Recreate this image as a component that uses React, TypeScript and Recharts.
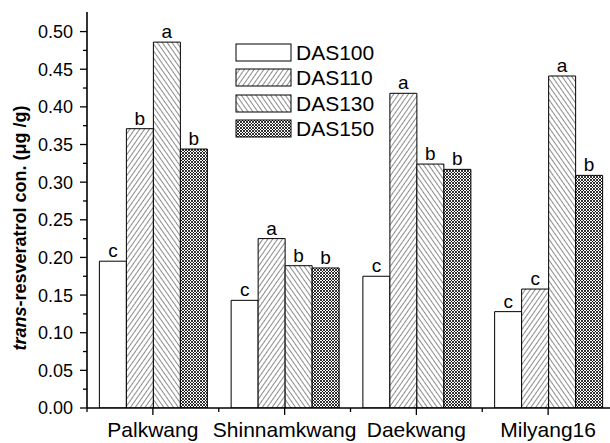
import React from 'react';
import { BarChart, Bar, XAxis, YAxis, Legend, LabelList } from 'recharts';

const categories = ['Palkwang', 'Shinnamkwang', 'Daekwang', 'Milyang16'];
const das100 = [0.195, 0.143, 0.175, 0.128];
const das110 = [0.371, 0.225, 0.418, 0.158];
const das130 = [0.486, 0.189, 0.324, 0.441];
const das150 = [0.344, 0.186, 0.317, 0.309];
const letters100 = ['c', 'c', 'c', 'c'];
const letters110 = ['b', 'a', 'a', 'c'];
const letters130 = ['a', 'b', 'b', 'a'];
const letters150 = ['b', 'b', 'b', 'b'];
const majorTicks = [0, 0.05, 0.1, 0.15, 0.2, 0.25, 0.3, 0.35, 0.4, 0.45, 0.5];
const minorTicks = [0.025, 0.075, 0.125, 0.175, 0.225, 0.275, 0.325, 0.375, 0.425, 0.475];

const series = [
  { key: 'd100', label: 'l100', name: 'DAS100', fill: '#ffffff' },
  { key: 'd110', label: 'l110', name: 'DAS110', fill: 'url(#hatchFwd)' },
  { key: 'd130', label: 'l130', name: 'DAS130', fill: 'url(#hatchBack)' },
  { key: 'd150', label: 'l150', name: 'DAS150', fill: 'url(#crossHatch)' },
];

const data = categories.map((name, i) => ({
  name,
  d100: das100[i],
  d110: das110[i],
  d130: das130[i],
  d150: das150[i],
  l100: letters100[i],
  l110: letters110[i],
  l130: letters130[i],
  l150: letters150[i],
}));

const FONT = '"Liberation Sans", Arial, sans-serif';
// the original frame runs off the right edge, so the chart is a bit wider than the window
const WIDTH = 614;
const HEIGHT = 443;
const Y_AXIS_W = 87;
const MARGIN = { top: 12, right: 0, left: 0, bottom: 0 };
const BAND = (WIDTH - Y_AXIS_W - MARGIN.left - MARGIN.right) / categories.length;

const YTick = (props: any) => {
  const { x, y, payload } = props;
  const isMajor = majorTicks.includes(payload.value);
  return (
    <g>
      <line x1={x - (isMajor ? 7 : 4)} x2={x} y1={y} y2={y} stroke="#000" strokeWidth={1.3} />
      {isMajor && (
        <text x={x - 14} y={y} dy="0.36em" textAnchor="end" fontSize={18} fontFamily={FONT} fill="#000">
          {payload.value.toFixed(2)}
        </text>
      )}
    </g>
  );
};

const XTick = (props: any) => {
  const { x, y, payload, index } = props;
  const last = index === categories.length - 1;
  return (
    <g>
      <line x1={x} x2={x} y1={y} y2={y + 7} stroke="#000" strokeWidth={1.3} />
      <line x1={x - BAND / 2} x2={x - BAND / 2} y1={y} y2={y + 4} stroke="#000" strokeWidth={1.3} />
      {last && <line x1={x + BAND / 2} x2={x + BAND / 2} y1={y} y2={y + 4} stroke="#000" strokeWidth={1.3} />}
      <text x={x} y={y + 29} textAnchor="middle" fontSize={21} fontFamily={FONT} fill="#000">
        {payload.value}
      </text>
    </g>
  );
};

const YTitle = (props: any) => {
  const { viewBox } = props;
  const cy = viewBox.y + viewBox.height / 2 + 18;
  return (
    <text
      transform={`translate(26, ${cy}) rotate(-90)`}
      textAnchor="middle"
      fontSize={18}
      fontWeight="bold"
      fontFamily={FONT}
      fill="#000"
    >
      <tspan fontStyle="italic">trans</tspan>
      <tspan>-resveratrol con. (μg /g)</tspan>
    </text>
  );
};

const LegendBox = () => (
  <div style={{ fontFamily: FONT }}>
    {series.map((s) => (
      <div key={s.key} style={{ display: 'flex', alignItems: 'center', height: 25.3 }}>
        <svg width={57} height={19} style={{ display: 'block' }}>
          <rect x={1} y={1} width={55} height={17} fill={s.fill} stroke="#000" strokeWidth={1} />
        </svg>
        <span style={{ fontSize: 21, marginLeft: 4, color: '#000', lineHeight: '21px' }}>{s.name}</span>
      </div>
    ))}
  </div>
);

export default function App() {
  return (
    <div style={{ position: 'absolute', left: 0, top: 0, width: 610, height: HEIGHT, overflow: 'hidden', background: '#fff' }}>
      <BarChart
        width={WIDTH}
        height={HEIGHT}
        data={data}
        margin={MARGIN}
        barCategoryGap="9.4%"
        barGap={0}
      >
        <defs>
          <pattern id="hatchFwd" patternUnits="userSpaceOnUse" width={4} height={10} patternTransform="rotate(35)">
            <rect width={4} height={10} fill="#fff" />
            <line x1={0} y1={0} x2={0} y2={10} stroke="#000" strokeWidth={0.9} />
          </pattern>
          <pattern id="hatchBack" patternUnits="userSpaceOnUse" width={4} height={10} patternTransform="rotate(-35)">
            <rect width={4} height={10} fill="#fff" />
            <line x1={0} y1={0} x2={0} y2={10} stroke="#000" strokeWidth={0.9} />
          </pattern>
          <pattern id="crossHatch" patternUnits="userSpaceOnUse" width={3} height={3}>
            <rect width={3} height={3} fill="#fff" />
            <path d="M0,0 L3,3 M3,0 L0,3" stroke="#000" strokeWidth={0.8} />
          </pattern>
        </defs>
        <XAxis
          dataKey="name"
          height={35}
          tickSize={0}
          tickMargin={0}
          tickLine={false}
          tick={<XTick />}
          interval={0}
          axisLine={{ stroke: '#000', strokeWidth: 1.6 }}
        />
        <XAxis
          xAxisId="top"
          orientation="top"
          dataKey="name"
          height={0}
          tick={false}
          tickLine={false}
          axisLine={{ stroke: '#000', strokeWidth: 1.6 }}
        />
        <YAxis
          width={Y_AXIS_W}
          domain={[0, 0.526]}
          ticks={[...majorTicks, ...minorTicks].sort((a, b) => a - b)}
          interval={0}
          tickSize={0}
          tickMargin={0}
          tickLine={false}
          tick={<YTick />}
          axisLine={{ stroke: '#000', strokeWidth: 1.6 }}
          allowDataOverflow
          label={<YTitle />}
        />
        <Legend
          layout="vertical"
          align="center"
          verticalAlign="middle"
          content={<LegendBox />}
          wrapperStyle={{ position: 'absolute', left: 235, top: 40, width: 'auto', height: 'auto' }}
        />
        {series.map((s) => (
          <Bar key={s.key} dataKey={s.key} name={s.name} fill={s.fill} stroke="#000" strokeWidth={1} isAnimationActive={false}>
            <LabelList dataKey={s.label} position="top" offset={4} fontSize={19} fontFamily={FONT} fill="#000" />
          </Bar>
        ))}
      </BarChart>
    </div>
  );
}
